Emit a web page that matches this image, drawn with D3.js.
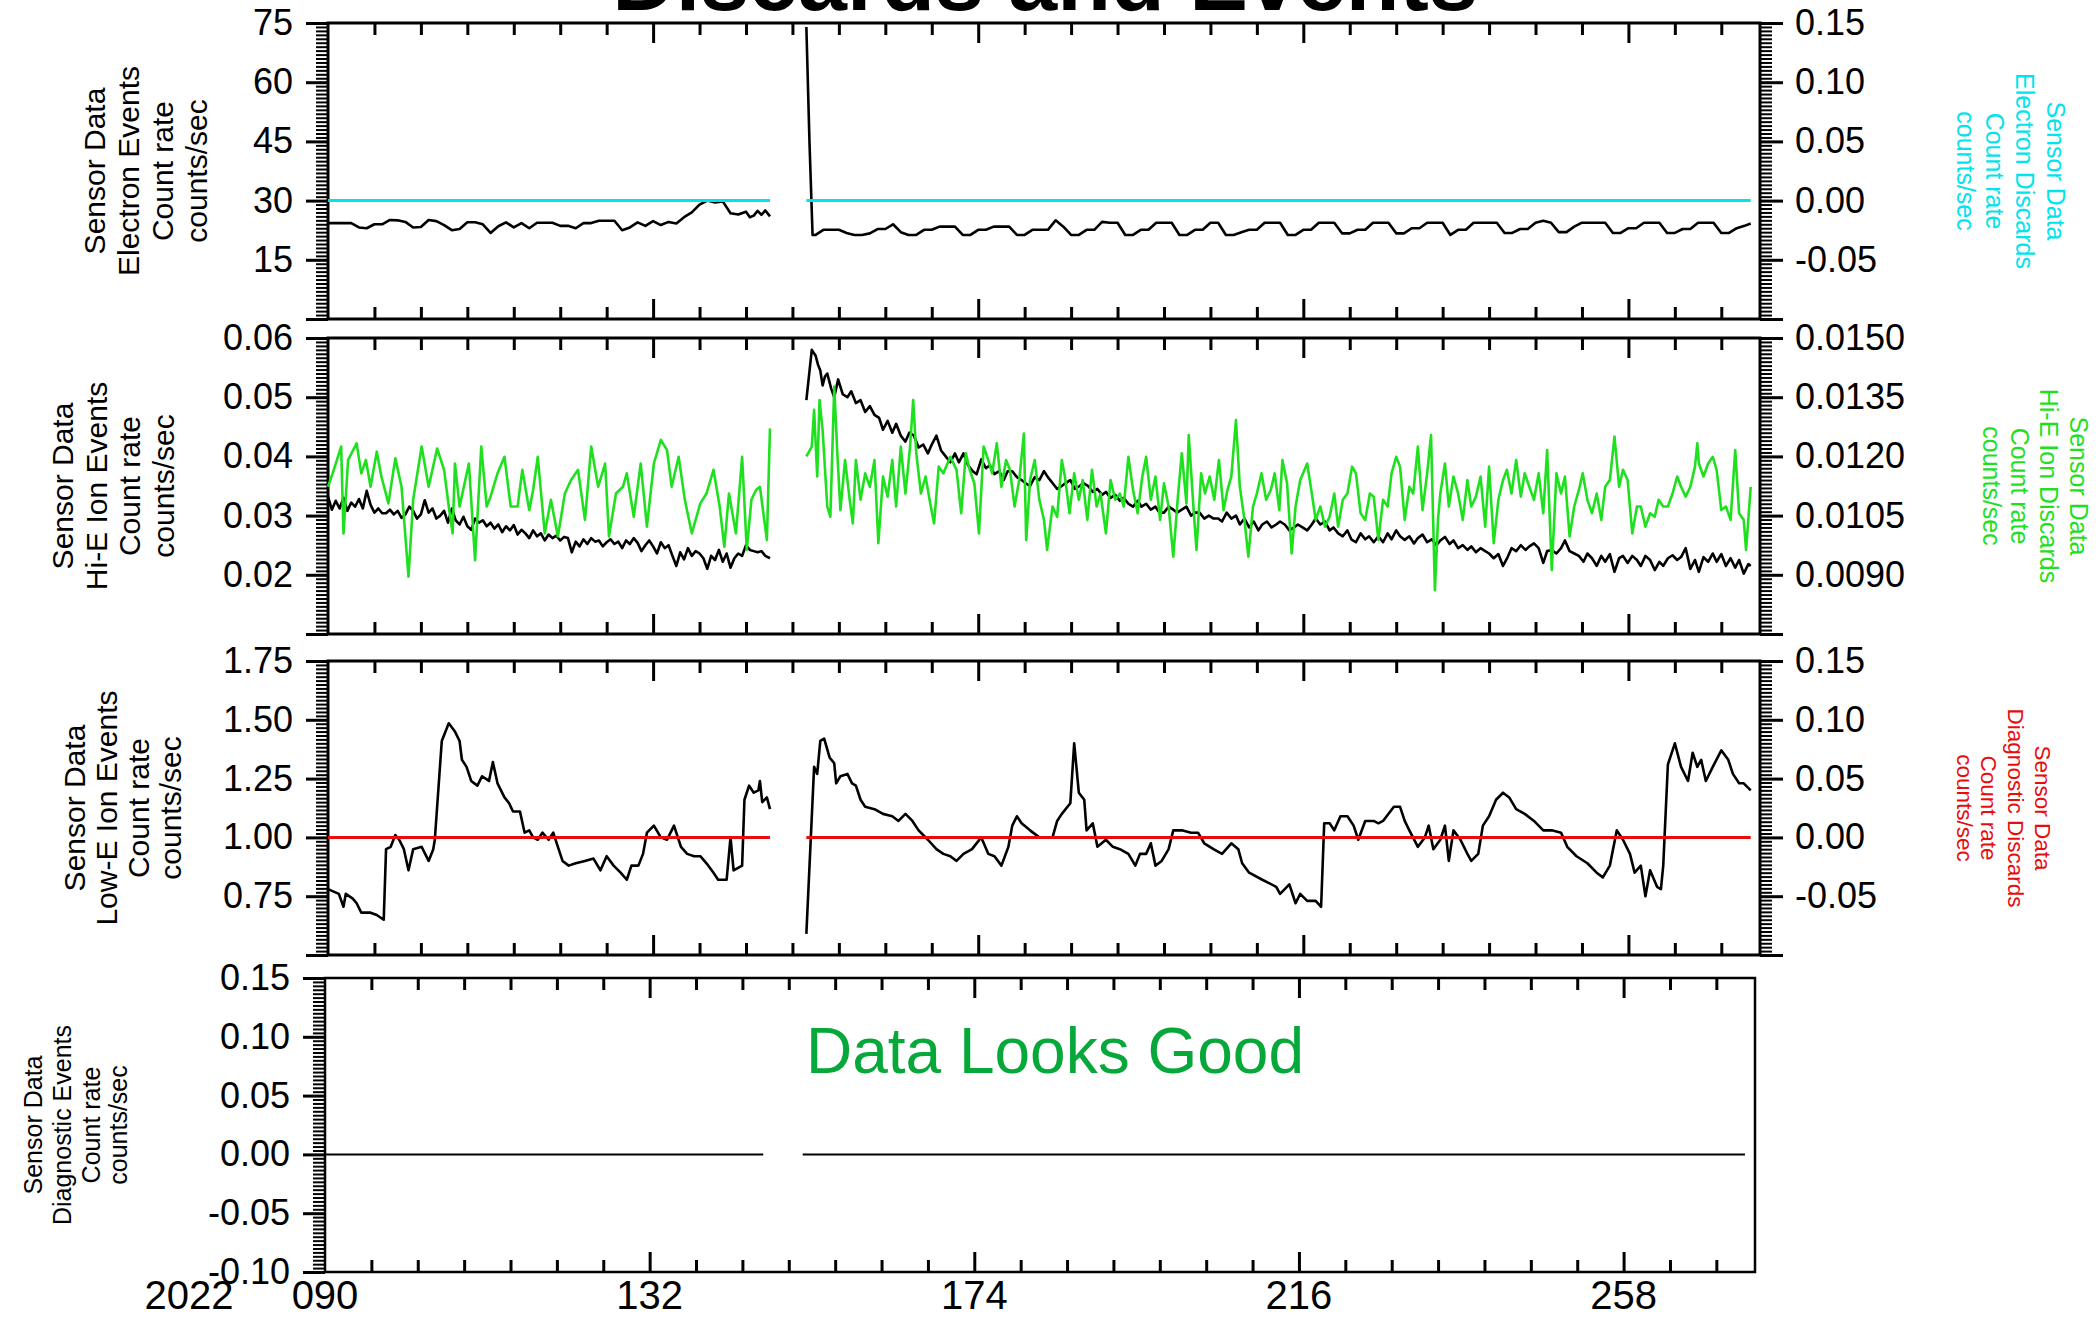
<!DOCTYPE html>
<html><head><meta charset="utf-8">
<script src="https://cdn.jsdelivr.net/npm/d3@7"></script>
<style>body{margin:0;background:#fff}svg{display:block}</style>
</head><body>
<svg id="chart" width="2100" height="1318"></svg>
<script>
// ---------------- DATA ----------------
const titleText = "Discards and Events";
const statusText = "Data Looks Good";
const yearLabel = "2022";
const xDomain = [90, 275];
const xLabelDays = [90, 132, 174, 216, 258];
const xLabels = ["090", "132", "174", "216", "258"];
const xMajorDays = [132, 174, 216, 258];
const xMinorDays = [96,102,108,114,120,126,138,144,150,156,162,168,180,186,192,198,204,210,222,228,234,240,246,252,264,270];

const p1LeftTicks = [0, 15, 30, 45, 60, 75];
const p1LeftLabels = ["", "15", "30", "45", "60", "75"];
const p1RightTicks = [-0.10, -0.05, 0.00, 0.05, 0.10, 0.15];
const p1RightLabels = ["", "-0.05", "0.00", "0.05", "0.10", "0.15"];
const p2LeftTicks = [0.01, 0.02, 0.03, 0.04, 0.05, 0.06];
const p2LeftLabels = ["", "0.02", "0.03", "0.04", "0.05", "0.06"];
const p2RightTicks = [0.0075, 0.0090, 0.0105, 0.0120, 0.0135, 0.0150];
const p2RightLabels = ["", "0.0090", "0.0105", "0.0120", "0.0135", "0.0150"];
const p3LeftTicks = [0.50, 0.75, 1.00, 1.25, 1.50, 1.75];
const p3LeftLabels = ["", "0.75", "1.00", "1.25", "1.50", "1.75"];
const p3RightTicks = [-0.10, -0.05, 0.00, 0.05, 0.10, 0.15];
const p3RightLabels = ["", "-0.05", "0.00", "0.05", "0.10", "0.15"];
const p4LeftTicks = [-0.10, -0.05, 0.00, 0.05, 0.10, 0.15];
const p4LeftLabels = ["-0.10", "-0.05", "0.00", "0.05", "0.10", "0.15"];

const p1LeftTitle = ["Sensor Data", "Electron Events", "Count rate", "counts/sec"];
const p1RightTitle = ["Sensor Data", "Electron Discards", "Count rate", "counts/sec"];
const p2LeftTitle = ["Sensor Data", "Hi-E Ion Events", "Count rate", "counts/sec"];
const p2RightTitle = ["Sensor Data", "Hi-E Ion Discards", "Count rate", "counts/sec"];
const p3LeftTitle = ["Sensor Data", "Low-E Ion Events", "Count rate", "counts/sec"];
const p3RightTitle = ["Sensor Data", "Diagnostic Discards", "Count rate", "counts/sec"];
const p4LeftTitle = ["Sensor Data", "Diagnostic Events", "Count rate", "counts/sec"];

// Electron events [day-of-year, counts/sec]
const electronEventsA = [[90,24.3],[91,24.3],[92,24.3],[93,24.3],[94,23.2],[95,23.0],[96,24.0],[97,24.0],[98,25.1],[99,25.0],[100,24.6],[101,23.2],[102,23.3],[103,25.1],[104,24.8],[105,23.8],[106,22.5],[107,22.8],[108,24.5],[109,24.5],[110,24.0],[111,21.8],[112,23.5],[113,24.5],[114,23.2],[115,24.3],[116,23.0],[117,24.4],[118,24.4],[119,24.4],[120,23.6],[121,23.6],[122,23.0],[123,24.3],[124,24.3],[125,24.9],[126,24.9],[127,24.9],[128,22.5],[129,23.2],[130,24.5],[131,23.6],[132,24.8],[133,23.8],[134,24.6],[135,24.2],[136,25.8],[137,27.0],[138,29.0],[139,30.0],[140,29.5],[141,29.8],[142,26.8],[143,26.5],[144,27.2],[144.5,25.8],[145,26.2],[145.5,27.4],[146,26.4],[146.5,27.5],[147.1,26.0]];
const electronEventsB = [[151.8,74],[152.2,45],[152.6,21.3],[153,21.3],[154,22.6],[155,22.6],[156,22.6],[157,21.8],[158,21.3],[159,21.3],[160,21.7],[161,22.8],[162,22.8],[163,24.0],[164,22.0],[165,21.3],[166,21.3],[167,22.6],[168,22.6],[169,23.4],[170,23.4],[171,23.4],[172,21.3],[173,21.3],[174,22.6],[175,22.6],[176,23.4],[177,23.4],[178,23.4],[179,21.3],[180,21.3],[181,22.6],[182,22.6],[183,22.6],[184,25.0],[185,23.4],[186,21.3],[187,21.3],[188,22.6],[189,22.6],[190,24.6],[191,24.4],[192,24.4],[193,21.3],[194,21.3],[195,22.6],[196,22.6],[197,24.4],[198,24.4],[199,24.4],[200,21.3],[201,21.3],[202,22.6],[203,22.6],[204,24.4],[205,24.4],[206,21.3],[207,21.3],[208,22.0],[209,22.6],[210,22.6],[211,24.4],[212,24.4],[213,24.4],[214,21.3],[215,21.3],[216,22.6],[217,22.6],[218,24.4],[219,24.4],[220,24.4],[221,21.7],[222,21.7],[223,22.6],[224,22.6],[225,24.4],[226,24.4],[227,24.4],[228,21.7],[229,21.7],[230,23.0],[231,23.0],[232,24.4],[233,24.4],[234,24.4],[235,21.3],[236,22.6],[237,22.6],[238,24.4],[239,24.4],[240,24.4],[241,24.4],[242,21.8],[243,21.8],[244,22.8],[245,22.8],[246,24.4],[247,24.9],[248,24.4],[249,22.0],[250,22.0],[251,23.4],[252,24.4],[253,24.4],[254,24.4],[255,24.4],[256,21.8],[257,21.8],[258,23.0],[259,23.0],[260,24.4],[261,24.4],[262,24.4],[263,21.8],[264,21.8],[265,22.8],[266,22.8],[267,24.4],[268,24.4],[269,24.4],[270,21.8],[271,21.8],[272,23.0],[273,23.6],[273.8,24.2]];
const electronDiscardsA = [[90,0],[147.1,0]];
const electronDiscardsB = [[151.8,0],[273.8,0]];

// Hi-E ion events
const hiEventsA = [[90.0,0.0332],[90.5,0.031],[91.0,0.0325],[91.5,0.0312],[92.0,0.033],[92.5,0.0308],[93.0,0.0322],[93.5,0.0315],[94.0,0.0328],[94.5,0.0312],[95.0,0.0342],[95.5,0.0318],[96.0,0.0305],[96.5,0.0312],[97.0,0.0304],[97.5,0.0304],[98.0,0.031],[98.5,0.0302],[99.0,0.0308],[99.5,0.0296],[100.0,0.0302],[100.5,0.0315],[101.0,0.0308],[101.5,0.0295],[102.0,0.0302],[102.5,0.0326],[103.0,0.0305],[103.5,0.0312],[104.0,0.0295],[104.5,0.030],[105.0,0.0308],[105.5,0.0288],[106.0,0.0312],[106.5,0.0292],[107.0,0.0285],[107.5,0.0298],[108.0,0.0282],[108.5,0.0276],[109.0,0.0295],[109.5,0.0288],[110.0,0.0292],[110.5,0.0282],[111.0,0.0288],[111.5,0.0278],[112.0,0.0285],[112.5,0.0272],[113.0,0.0282],[113.5,0.0275],[114.0,0.0284],[114.5,0.0268],[115.0,0.0276],[115.5,0.027],[116.0,0.0262],[116.5,0.0275],[117.0,0.0265],[117.5,0.027],[118.0,0.0258],[118.5,0.0268],[119.0,0.0262],[119.5,0.0266],[120.0,0.0258],[120.5,0.0264],[121.0,0.0262],[121.5,0.0238],[122.0,0.0256],[122.5,0.0248],[123.0,0.026],[123.5,0.0252],[124.0,0.0262],[124.5,0.0256],[125.0,0.0258],[125.5,0.0248],[126.0,0.0255],[126.5,0.026],[127.0,0.0252],[127.5,0.0256],[128.0,0.0245],[128.5,0.0258],[129.0,0.0252],[129.5,0.0262],[130.0,0.0254],[130.5,0.024],[131.0,0.025],[131.5,0.0258],[132.0,0.0248],[132.5,0.0236],[133.0,0.0255],[133.5,0.0245],[134.0,0.025],[134.5,0.0232],[135.0,0.0215],[135.5,0.0238],[136.0,0.0226],[136.5,0.0245],[137.0,0.0232],[137.5,0.024],[138.0,0.0236],[138.5,0.0228],[139.0,0.021],[139.5,0.0232],[140.0,0.0225],[140.5,0.0242],[141.0,0.0222],[141.5,0.0236],[142.0,0.0212],[142.5,0.0228],[143.0,0.0236],[143.5,0.0232],[144.0,0.025],[144.5,0.0242],[145.0,0.024],[145.5,0.0238],[146.0,0.024],[146.5,0.0232],[147.1,0.0228]];
const hiEventsB = [[151.8,0.0495],[152.5,0.058],[153.0,0.057],[153.3,0.0555],[153.6,0.0545],[153.9,0.052],[154.2,0.0535],[154.5,0.054],[155.0,0.0515],[155.4,0.050],[155.9,0.053],[156.5,0.0505],[157.1,0.050],[157.6,0.051],[158.2,0.049],[158.8,0.0495],[159.4,0.0475],[160.0,0.0485],[160.6,0.047],[161.2,0.0465],[161.7,0.0445],[162.3,0.046],[162.9,0.044],[163.4,0.0455],[164.0,0.0435],[164.6,0.0425],[165.1,0.044],[165.7,0.0435],[166.3,0.0415],[166.9,0.042],[167.5,0.0405],[168.0,0.042],[168.6,0.0435],[169.2,0.041],[169.8,0.040],[170.4,0.039],[171.0,0.0405],[171.5,0.039],[172.1,0.0405],[172.7,0.0385],[173.3,0.0375],[173.8,0.037],[174.4,0.0395],[175.0,0.038],[175.5,0.0385],[176.1,0.037],[176.7,0.0375],[177.3,0.036],[177.8,0.0375],[178.4,0.0375],[179.0,0.0365],[179.6,0.036],[180.1,0.0355],[180.7,0.035],[181.3,0.0365],[181.9,0.036],[182.5,0.0375],[183.0,0.0365],[183.6,0.0355],[184.2,0.0345],[184.8,0.035],[185.3,0.0355],[185.9,0.036],[186.5,0.0345],[187.1,0.035],[187.6,0.0355],[188.2,0.035],[188.8,0.034],[189.4,0.0345],[190.0,0.0335],[190.5,0.034],[191.1,0.033],[191.7,0.0335],[192.3,0.0325],[192.8,0.033],[193.4,0.032],[194.0,0.0315],[194.6,0.0325],[195.1,0.0315],[195.7,0.032],[196.3,0.031],[196.9,0.0315],[197.4,0.0305],[198.0,0.0305],[198.6,0.0315],[199.2,0.031],[199.7,0.0305],[200.3,0.031],[200.9,0.0315],[201.5,0.030],[202.0,0.0305],[202.6,0.0305],[203.2,0.0295],[203.8,0.030],[204.4,0.0295],[205.0,0.0295],[205.5,0.029],[206.1,0.0305],[206.7,0.0295],[207.3,0.030],[207.8,0.0285],[208.4,0.0295],[209.0,0.028],[209.6,0.029],[210.2,0.0275],[210.7,0.0285],[211.3,0.029],[211.9,0.028],[212.5,0.0285],[213.0,0.029],[213.6,0.0285],[214.2,0.0275],[214.8,0.028],[215.3,0.0285],[215.9,0.028],[216.5,0.0275],[217.1,0.0285],[217.6,0.0295],[218.2,0.0285],[218.8,0.029],[219.4,0.0275],[219.9,0.028],[220.5,0.027],[221.1,0.0265],[221.7,0.0275],[222.2,0.026],[222.8,0.0255],[223.4,0.027],[224.0,0.026],[224.5,0.0265],[225.1,0.0255],[225.7,0.0265],[226.3,0.0255],[226.9,0.027],[227.4,0.026],[228.0,0.0275],[228.5,0.0265],[229.1,0.0259],[229.7,0.0265],[230.3,0.0253],[230.8,0.0262],[231.4,0.0268],[232.0,0.0255],[232.6,0.026],[233.2,0.025],[233.7,0.0258],[234.3,0.0264],[234.9,0.0252],[235.4,0.0258],[236.0,0.0245],[236.6,0.025],[237.2,0.0242],[237.7,0.0248],[238.3,0.0238],[238.9,0.0245],[239.5,0.024],[240.0,0.0236],[240.6,0.0228],[241.2,0.0235],[241.8,0.0215],[242.4,0.023],[242.9,0.0245],[243.5,0.024],[244.1,0.025],[244.7,0.0242],[245.2,0.0248],[245.8,0.0253],[246.4,0.0245],[247.0,0.022],[247.5,0.024],[248.1,0.0242],[248.7,0.0236],[249.3,0.0245],[249.8,0.0258],[250.4,0.024],[251.0,0.0236],[251.6,0.0232],[252.2,0.0222],[252.7,0.0236],[253.3,0.0228],[253.9,0.0215],[254.5,0.0232],[255.0,0.0222],[255.6,0.0235],[256.2,0.0205],[256.8,0.0228],[257.3,0.0232],[257.9,0.022],[258.5,0.0232],[259.1,0.0225],[259.6,0.0215],[260.2,0.0232],[260.8,0.0225],[261.4,0.0208],[262.0,0.0222],[262.5,0.0215],[263.1,0.0228],[263.7,0.0233],[264.3,0.0225],[264.8,0.023],[265.4,0.0245],[266.0,0.021],[266.6,0.0225],[267.1,0.0205],[267.7,0.023],[268.3,0.0222],[268.9,0.0236],[269.4,0.0222],[270.0,0.0235],[270.6,0.0215],[271.2,0.0228],[271.8,0.0212],[272.3,0.0225],[272.9,0.0202],[273.5,0.0218],[273.8,0.0215]];

// Hi-E ion discards (right axis)
const hiDiscardsA = [[90.0,0.01123],[90.6,0.01157],[91.7,0.01225],[92.0,0.01005],[92.6,0.01191],[93.7,0.01233],[94.3,0.01157],[94.9,0.01191],[95.5,0.01123],[96.3,0.01212],[96.9,0.01149],[97.8,0.01081],[98.7,0.01195],[99.5,0.01123],[100.4,0.00895],[101.0,0.0109],[102.1,0.01225],[103.0,0.01123],[104.1,0.0122],[105.0,0.01166],[105.6,0.01073],[106.1,0.01005],[106.4,0.01182],[107.0,0.01073],[108.2,0.01182],[109.0,0.00937],[109.8,0.01225],[110.5,0.01073],[111.0,0.01098],[111.9,0.01157],[112.8,0.01199],[113.6,0.01073],[114.5,0.01073],[115.1,0.01166],[116.0,0.01064],[116.5,0.01115],[117.1,0.01199],[118.0,0.01005],[118.8,0.0109],[119.7,0.00997],[120.6,0.01106],[121.4,0.0114],[122.3,0.01166],[123.2,0.01039],[124.0,0.01225],[124.9,0.01123],[125.8,0.01182],[126.3,0.00997],[127.2,0.01106],[128.1,0.01123],[128.6,0.01157],[129.5,0.01047],[130.4,0.01182],[131.2,0.01022],[132.1,0.01182],[133.0,0.01242],[133.8,0.01216],[134.4,0.01123],[135.3,0.01199],[136.1,0.0109],[137.0,0.01005],[138.1,0.01081],[138.9,0.01106],[139.8,0.01166],[140.6,0.01073],[141.2,0.00971],[141.8,0.01106],[142.7,0.01005],[143.5,0.01199],[144.1,0.00963],[144.7,0.0109],[145.3,0.01115],[145.8,0.01123],[146.7,0.00988],[147.1,0.01271]];
const hiDiscardsB = [[151.8,0.012],[152.5,0.01225],[152.8,0.01318],[153.2,0.01149],[153.5,0.01343],[153.9,0.01267],[154.5,0.01073],[154.9,0.01047],[155.4,0.01377],[155.8,0.01208],[156.2,0.01064],[156.8,0.01191],[157.4,0.0109],[157.8,0.0103],[158.2,0.01191],[158.8,0.0109],[159.4,0.01157],[160.0,0.01123],[160.6,0.01191],[161.1,0.0098],[161.7,0.01149],[162.3,0.01098],[162.9,0.01191],[163.4,0.01073],[164.0,0.01225],[164.6,0.01106],[165.2,0.01225],[165.6,0.01343],[166.0,0.01208],[166.6,0.01106],[167.2,0.01149],[167.8,0.01081],[168.3,0.0103],[168.9,0.01174],[169.5,0.01157],[170.4,0.01199],[171.2,0.01166],[171.8,0.01056],[172.4,0.01208],[172.9,0.01166],[173.5,0.01132],[174.1,0.01005],[174.7,0.01225],[175.3,0.01191],[175.8,0.01157],[176.4,0.01233],[177.0,0.01123],[177.6,0.01191],[178.1,0.01166],[178.7,0.01073],[179.3,0.0114],[179.9,0.01258],[180.2,0.00988],[180.7,0.0114],[181.3,0.01191],[181.9,0.0109],[182.5,0.01039],[182.9,0.00963],[183.6,0.01073],[184.2,0.01047],[184.8,0.01191],[185.2,0.01149],[185.8,0.01056],[186.4,0.01157],[187.0,0.0109],[187.5,0.0114],[188.1,0.01039],[188.7,0.01166],[189.3,0.01073],[189.8,0.01106],[190.5,0.01005],[191.1,0.0114],[191.7,0.0109],[192.3,0.01106],[192.8,0.01073],[193.4,0.01199],[194.0,0.01115],[194.6,0.01056],[195.2,0.01149],[195.7,0.01199],[196.3,0.0109],[196.9,0.01149],[197.5,0.01039],[198.0,0.01132],[198.6,0.01073],[199.2,0.00946],[199.8,0.01098],[200.3,0.01208],[200.9,0.01081],[201.2,0.01254],[201.8,0.01073],[202.2,0.00963],[202.8,0.01157],[203.3,0.01106],[203.9,0.01149],[204.5,0.0109],[205.1,0.01191],[205.7,0.01064],[206.2,0.01115],[206.7,0.01149],[207.3,0.01292],[207.8,0.01123],[208.4,0.01039],[208.9,0.00946],[209.5,0.01073],[210.0,0.01106],[210.6,0.01157],[211.2,0.0109],[211.8,0.01115],[212.3,0.01157],[212.9,0.01064],[213.3,0.01191],[213.9,0.01132],[214.5,0.00954],[215.0,0.01073],[215.6,0.0114],[216.5,0.01182],[217.1,0.01106],[217.6,0.01039],[218.2,0.01073],[218.8,0.01022],[219.4,0.01047],[220.0,0.01106],[220.5,0.01022],[221.1,0.0109],[221.7,0.01106],[222.3,0.01174],[222.8,0.01157],[223.4,0.01056],[224.0,0.01039],[224.6,0.01106],[225.1,0.01098],[225.7,0.00988],[226.3,0.0109],[226.9,0.01073],[227.4,0.01157],[228.0,0.01199],[228.5,0.01174],[229.1,0.01039],[229.7,0.01123],[230.2,0.01106],[230.8,0.01225],[231.4,0.01064],[232.0,0.01157],[232.5,0.01254],[233.0,0.00861],[233.4,0.01039],[233.7,0.01106],[234.3,0.01182],[234.8,0.01073],[235.4,0.01149],[236.0,0.01106],[236.6,0.01039],[237.2,0.0114],[237.7,0.01073],[238.3,0.01098],[238.9,0.01149],[239.5,0.01022],[240.0,0.01174],[240.6,0.0098],[241.2,0.0109],[241.8,0.0114],[242.3,0.01166],[242.9,0.01106],[243.5,0.01191],[244.1,0.01098],[244.6,0.01157],[245.2,0.01123],[245.8,0.0109],[246.4,0.01157],[247.0,0.01056],[247.5,0.01216],[248.1,0.00912],[248.7,0.01157],[249.3,0.01106],[249.8,0.01149],[250.4,0.00997],[251.0,0.01073],[251.6,0.01115],[252.1,0.01157],[252.7,0.0109],[253.3,0.01056],[253.9,0.01106],[254.5,0.01039],[255.0,0.01123],[255.6,0.0114],[256.2,0.0125],[256.8,0.01123],[257.3,0.01166],[257.9,0.0114],[258.5,0.01005],[259.1,0.01073],[259.6,0.01073],[260.2,0.01022],[260.8,0.01056],[261.4,0.01047],[261.9,0.0109],[262.5,0.01073],[263.1,0.01073],[263.7,0.01106],[264.3,0.01149],[264.8,0.01123],[265.4,0.01098],[266.0,0.01123],[266.6,0.01174],[266.9,0.01233],[267.1,0.01182],[267.7,0.01149],[268.3,0.01182],[268.9,0.01199],[269.4,0.01166],[270.0,0.01064],[270.6,0.01073],[271.2,0.01039],[271.8,0.01216],[272.3,0.01056],[272.9,0.01039],[273.2,0.00963],[273.8,0.01123]];

// Low-E ion events
const lowEventsA = [[90.0,0.78],[91.4,0.76],[92.0,0.705],[92.3,0.76],[93.2,0.74],[93.7,0.72],[94.3,0.68],[95.5,0.68],[96.3,0.67],[97.2,0.65],[97.5,0.95],[98.1,0.96],[98.7,1.01],[99.2,0.99],[99.8,0.95],[100.4,0.86],[101.0,0.95],[102.1,0.96],[103.0,0.90],[103.6,0.95],[103.8,0.99],[104.4,1.27],[104.7,1.41],[105.6,1.485],[106.4,1.45],[107.0,1.41],[107.3,1.33],[107.9,1.30],[108.5,1.24],[109.3,1.22],[109.9,1.26],[110.8,1.24],[111.3,1.32],[111.9,1.23],[112.8,1.17],[113.4,1.145],[113.9,1.11],[114.8,1.11],[115.4,1.02],[116.0,1.03],[116.5,1.00],[117.1,0.99],[117.7,1.02],[118.5,0.99],[119.1,1.02],[119.7,0.96],[120.3,0.90],[121.1,0.88],[122.0,0.89],[123.2,0.90],[124.3,0.91],[125.2,0.86],[126.0,0.92],[126.9,0.88],[127.8,0.85],[128.6,0.82],[129.2,0.88],[130.1,0.88],[130.7,0.93],[131.2,1.02],[132.1,1.05],[133.0,1.00],[133.8,0.99],[134.7,1.05],[135.6,0.96],[136.4,0.93],[137.3,0.92],[138.1,0.92],[138.9,0.89],[139.8,0.85],[140.4,0.82],[141.5,0.82],[142.0,1.00],[142.4,0.86],[143.5,0.88],[143.8,1.16],[144.4,1.22],[145.0,1.19],[145.6,1.20],[145.8,1.24],[146.1,1.15],[146.7,1.17],[147.1,1.12]];
const lowEventsB = [[151.8,0.59],[152.8,1.30],[153.2,1.27],[153.6,1.41],[154.1,1.42],[154.8,1.34],[155.4,1.315],[155.65,1.23],[156.2,1.26],[157.1,1.27],[157.7,1.23],[158.2,1.22],[158.8,1.16],[159.4,1.13],[160.6,1.12],[161.7,1.10],[162.9,1.09],[163.7,1.07],[164.6,1.10],[165.5,1.07],[166.3,1.03],[167.5,0.99],[168.6,0.95],[169.5,0.93],[170.4,0.92],[171.2,0.90],[172.1,0.93],[173.2,0.95],[174.4,1.00],[175.3,0.93],[176.1,0.92],[177.0,0.88],[177.9,0.96],[178.4,1.05],[179.0,1.09],[179.6,1.06],[180.7,1.03],[181.9,1.00],[183.6,1.00],[184.2,1.07],[184.8,1.10],[185.9,1.145],[186.4,1.40],[187.0,1.19],[187.7,1.16],[188.0,1.03],[188.8,1.06],[189.4,0.96],[190.5,0.99],[191.4,0.96],[192.3,0.95],[193.4,0.93],[194.3,0.88],[194.9,0.93],[195.7,0.93],[196.3,0.975],[196.9,0.88],[197.7,0.90],[198.6,0.95],[199.2,1.03],[200.3,1.03],[201.5,1.02],[202.4,1.02],[203.2,0.975],[204.4,0.95],[205.5,0.93],[206.7,0.975],[207.6,0.95],[208.1,0.89],[209.0,0.85],[210.7,0.82],[212.5,0.79],[213.0,0.76],[214.2,0.80],[215.0,0.72],[215.6,0.76],[216.5,0.73],[217.6,0.73],[218.3,0.705],[218.7,1.06],[219.4,1.06],[220.0,1.03],[220.8,1.09],[221.7,1.09],[222.5,1.05],[223.1,0.99],[224.0,1.07],[225.1,1.07],[225.7,1.06],[226.3,1.07],[227.7,1.13],[228.5,1.13],[229.1,1.07],[229.7,1.03],[230.8,0.96],[231.7,1.00],[232.2,1.05],[232.8,0.95],[233.7,0.99],[234.3,1.05],[234.8,0.90],[235.4,1.03],[236.3,0.99],[237.2,0.93],[237.7,0.90],[238.6,0.93],[239.2,1.05],[240.0,1.09],[240.9,1.16],[241.8,1.19],[242.6,1.17],[243.5,1.12],[244.6,1.10],[245.8,1.07],[247.0,1.03],[248.1,1.03],[249.3,1.02],[250.1,0.96],[251.3,0.92],[252.7,0.89],[253.9,0.85],[254.7,0.83],[255.6,0.88],[256.5,1.03],[257.3,0.99],[258.2,0.93],[258.8,0.85],[259.6,0.88],[260.2,0.75],[260.8,0.86],[261.7,0.79],[262.2,0.78],[262.5,0.88],[263.1,1.31],[264.0,1.40],[264.8,1.30],[265.7,1.24],[266.3,1.36],[266.9,1.30],[267.4,1.33],[268.0,1.24],[268.9,1.30],[270.0,1.37],[270.9,1.33],[271.5,1.27],[272.3,1.23],[272.9,1.23],[273.8,1.20]];
const diagDiscardsA = [[90,0],[147.1,0]];
const diagDiscardsB = [[151.8,0],[273.8,0]];

// Diagnostic events
const diagEventsA = [[90,0],[146.7,0]];
const diagEventsB = [[151.8,0],[273.7,0]];

// ---------------- DRAWING ----------------
const FONT = "'Liberation Sans', Arial, Helvetica, sans-serif";
const CYAN = "#00e4ee", GREEN = "#1fe01f", RED = "#e80c0c", STATUS = "#07a83a";
const svg = d3.select("#chart");
svg.append("rect").attr("width", 2100).attr("height", 1318).attr("fill", "#fff");

const panels = [
  {top: 23, bottom: 319, left: 328, right: 1760},
  {top: 338, bottom: 634, left: 328, right: 1760},
  {top: 661, bottom: 955, left: 328, right: 1760},
  {top: 978, bottom: 1272, left: 325, right: 1755}
];

function minorsOf(ticks, n) {
  const out = [];
  for (let i = 0; i < ticks.length - 1; i++) {
    const a = ticks[i], b = ticks[i + 1];
    for (let k = 1; k < n; k++) out.push(a + (b - a) * k / n);
  }
  return out;
}

function styleAxis(g, width, fs) {
  g.select("path.domain").remove();
  g.selectAll("line").attr("stroke", "#000").attr("stroke-width", width);
  g.selectAll("text").attr("font-size", fs).attr("font-family", FONT).attr("fill", "#000");
}

function drawPanel(p, cfg) {
  const x = d3.scaleLinear().domain(xDomain).range([p.left, p.right]);
  const yL = d3.scaleLinear().domain([cfg.leftTicks[0], cfg.leftTicks[cfg.leftTicks.length - 1]]).range([p.bottom, p.top]);
  const g = svg.append("g");

  const lmin = g.append("g").attr("transform", `translate(${p.left},0)`)
    .call(d3.axisLeft(yL).tickValues(minorsOf(cfg.leftTicks, 15)).tickSize(12).tickFormat(""));
  styleAxis(lmin, 2, 10);
  const lmaj = g.append("g").attr("transform", `translate(${p.left},0)`)
    .call(d3.axisLeft(yL).tickValues(cfg.leftTicks).tickSize(22).tickPadding(13)
      .tickFormat((d, i) => cfg.leftLabels[i]));
  styleAxis(lmaj, 3, 36);

  let yR = null;
  if (cfg.rightTicks) {
    yR = d3.scaleLinear().domain([cfg.rightTicks[0], cfg.rightTicks[cfg.rightTicks.length - 1]]).range([p.bottom, p.top]);
    const rmin = g.append("g").attr("transform", `translate(${p.right},0)`)
      .call(d3.axisRight(yR).tickValues(minorsOf(cfg.rightTicks, 15)).tickSize(12).tickFormat(""));
    styleAxis(rmin, 2, 10);
    const rmaj = g.append("g").attr("transform", `translate(${p.right},0)`)
      .call(d3.axisRight(yR).tickValues(cfg.rightTicks).tickSize(23).tickPadding(12)
        .tickFormat((d, i) => cfg.rightLabels[i]));
    styleAxis(rmaj, 3, 36);
  }

  [["top", p.top], ["bottom", p.bottom]].forEach(([side, yy]) => {
    const mk = side === "top" ? d3.axisTop : d3.axisBottom;
    const a1 = g.append("g").attr("transform", `translate(0,${yy})`)
      .call(mk(x).tickValues(xMinorDays).tickSize(-12).tickFormat(""));
    styleAxis(a1, 3, 10);
    const a2 = g.append("g").attr("transform", `translate(0,${yy})`)
      .call(mk(x).tickValues(xMajorDays).tickSize(-20).tickFormat(""));
    styleAxis(a2, 3, 10);
  });

  g.append("rect").attr("x", p.left).attr("y", p.top)
    .attr("width", p.right - p.left).attr("height", p.bottom - p.top)
    .attr("fill", "none").attr("stroke", "#000").attr("stroke-width", cfg.frameW || 3);

  cfg.series.forEach(s => {
    const ys = s.axis === "right" ? yR : yL;
    const line = d3.line().x(d => x(d[0])).y(d => ys(d[1]));
    s.segments.forEach(seg => {
      g.append("path").attr("d", line(seg)).attr("fill", "none")
        .attr("stroke", s.color).attr("stroke-width", s.width)
        .attr("stroke-linejoin", "round");
    });
  });

  cfg.leftTitle.lines.forEach((t, i) => {
    const fs = cfg.leftTitle.fs;
    const bx = cfg.leftTitle.xs[i] + 0.36 * fs;
    const cy = (p.top + p.bottom) / 2;
    g.append("text").attr("transform", `translate(${bx},${cy}) rotate(-90)`)
      .attr("text-anchor", "middle").attr("font-size", fs).attr("font-family", FONT)
      .attr("fill", "#000").text(t);
  });
  if (cfg.rightTitle) {
    cfg.rightTitle.lines.forEach((t, i) => {
      const fs = cfg.rightTitle.fs;
      const bx = cfg.rightTitle.xs[i] - 0.36 * fs;
      const cy = (p.top + p.bottom) / 2;
      g.append("text").attr("transform", `translate(${bx},${cy}) rotate(90)`)
        .attr("text-anchor", "middle").attr("font-size", fs).attr("font-family", FONT)
        .attr("fill", cfg.rightTitle.color).text(t);
    });
  }
  return {x, yL, yR, g};
}

drawPanel(panels[0], {
  leftTicks: p1LeftTicks, leftLabels: p1LeftLabels,
  rightTicks: p1RightTicks, rightLabels: p1RightLabels,
  series: [
    {segments: [electronEventsA, electronEventsB], color: "#000", width: 2.6, axis: "left"},
    {segments: [electronDiscardsA, electronDiscardsB], color: CYAN, width: 3, axis: "right"}
  ],
  leftTitle: {lines: p1LeftTitle, xs: [94, 128, 162, 196], fs: 30},
  rightTitle: {lines: p1RightTitle, xs: [2056, 2025, 1995, 1966], fs: 25, color: CYAN}
});

drawPanel(panels[1], {
  leftTicks: p2LeftTicks, leftLabels: p2LeftLabels,
  rightTicks: p2RightTicks, rightLabels: p2RightLabels,
  series: [
    {segments: [hiEventsA, hiEventsB], color: "#000", width: 2.6, axis: "left"},
    {segments: [hiDiscardsA, hiDiscardsB], color: GREEN, width: 2.6, axis: "right"}
  ],
  leftTitle: {lines: p2LeftTitle, xs: [62, 96, 129, 163], fs: 30},
  rightTitle: {lines: p2RightTitle, xs: [2079, 2049, 2020, 1992], fs: 25, color: GREEN}
});

drawPanel(panels[2], {
  leftTicks: p3LeftTicks, leftLabels: p3LeftLabels,
  rightTicks: p3RightTicks, rightLabels: p3RightLabels,
  series: [
    {segments: [lowEventsA, lowEventsB], color: "#000", width: 2.6, axis: "left"},
    {segments: [diagDiscardsA, diagDiscardsB], color: RED, width: 3, axis: "right"}
  ],
  leftTitle: {lines: p3LeftTitle, xs: [74, 106, 138, 170], fs: 30},
  rightTitle: {lines: p3RightTitle, xs: [2043, 2016, 1989, 1965], fs: 22.5, color: RED}
});

const P4 = drawPanel(panels[3], {
  leftTicks: p4LeftTicks, leftLabels: p4LeftLabels,
  frameW: 2.5,
  series: [
    {segments: [diagEventsA, diagEventsB], color: "#000", width: 2, axis: "left"}
  ],
  leftTitle: {lines: p4LeftTitle, xs: [33, 62, 91, 118], fs: 25}
});

const xl = P4.g.append("g");
xLabelDays.forEach((d, i) => {
  xl.append("text").attr("x", P4.x(d)).attr("y", 1309).attr("text-anchor", "middle")
    .attr("font-size", 40).attr("font-family", FONT).attr("fill", "#000").text(xLabels[i]);
});
xl.append("text").attr("x", 189).attr("y", 1309).attr("text-anchor", "middle")
  .attr("font-size", 40).attr("font-family", FONT).attr("fill", "#000").text(yearLabel);

svg.append("text").attr("x", 1055).attr("y", 1073).attr("text-anchor", "middle")
  .attr("font-size", 64).attr("font-family", FONT).attr("fill", STATUS).text(statusText);

svg.append("text").attr("x", 1045).attr("y", 10).attr("text-anchor", "middle")
  .attr("font-size", 88).attr("font-weight", "bold").attr("font-family", FONT)
  .attr("fill", "#000").text(titleText);
</script>
</body></html>
